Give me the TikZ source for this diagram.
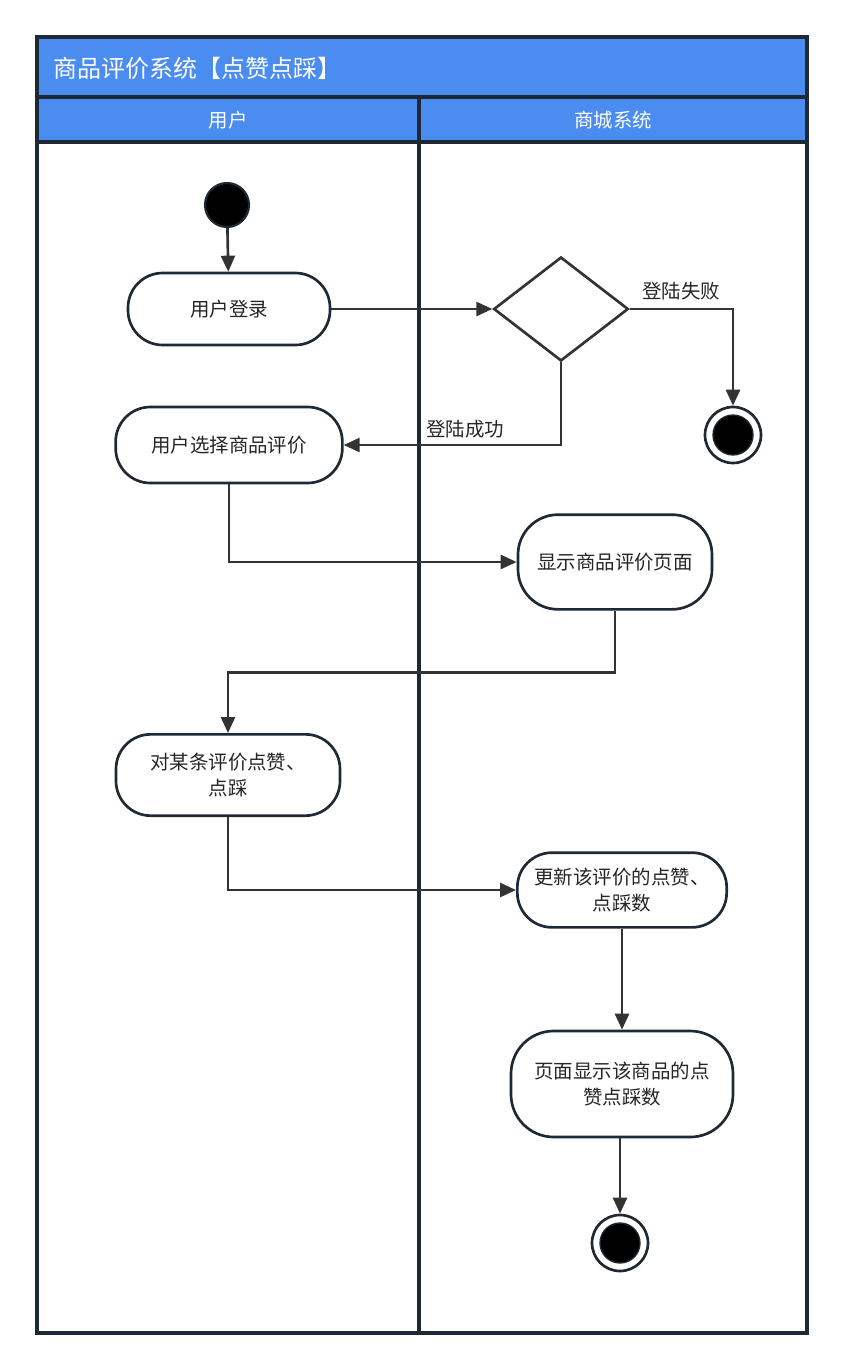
\documentclass[tikz,border=0pt]{standalone}
\usepackage{fontspec}
\setmainfont{Noto Sans CJK SC}
\usetikzlibrary{arrows.meta}
\usetikzlibrary{positioning, shapes.geometric}
\definecolor{lanebar}{HTML}{4A8CF0}
\definecolor{frameline}{HTML}{1F2933}
\definecolor{flowline}{HTML}{333333}
\tikzset{
activity/.style = { rectangle, draw = frameline, fill = white, line width = 2pt, rounded corners = 26pt, align = center, text = black!85, font = \fontsize{14.6}{19}\selectfont },
decision/.style = { diamond, draw = flowline, fill = white, line width = 2pt, minimum width = 101pt, minimum height = 78pt, inner sep = 0pt },
initial/.style = { circle, draw = frameline, fill = black, line width = 1.6pt, minimum size = 33pt, inner sep = 0pt },
final/.style = { circle, draw = frameline, fill = white, line width = 2pt, minimum size = 42pt, inner sep = 0pt,
        path picture = {\filldraw[fill = black, draw = frameline, line width = 1pt] (path picture bounding box.center) circle (15pt);} },
flow/.style = { draw = flowline, line width = 2pt, -{Triangle[length = 12pt, width = 10.5pt]} },
guard/.style = { text = black!85, font = \fontsize{14.6}{17}\selectfont },
}

\begin{document}
\begin{tikzpicture}[x = 0.75pt, y = -0.75pt]
    \useasboundingbox[fill = white] (0, 0) rectangle (845, 1371);
    % swimlane frame
    \path[fill = lanebar] (37, 37) rectangle (807, 142);
    \draw[frameline, line width = 2.3pt] (37, 97) -- (807, 97);
    \draw[frameline, line width = 2.3pt] (37, 142) -- (807, 142);
    \draw[frameline, line width = 2.3pt] (419, 97) -- (419, 1333);
    \draw[frameline, line width = 2.3pt] (37, 37) rectangle (807, 1333);
    \node[anchor = west, text = white, font = \fontsize{18}{21}\selectfont] (title) at (49, 68) {商品评价系统【点赞点踩】};
    \node[text = white, font = \fontsize{14.6}{17}\selectfont] (laneuser) at (228, 120) {用户};
    \node[text = white, font = \fontsize{14.6}{17}\selectfont] (laneshop) at (613, 120) {商城系统};
    % activities
    \node[initial] (start) at (227, 205) {};
    \node[activity, minimum width = 151.5pt, minimum height = 54pt] (login) at (229, 309) {用户登录};
    \node[decision] (check) at (561, 309) {};
    \node[final] (failend) at (733, 435) {};
    \node[activity, minimum width = 170pt, minimum height = 57pt] (select) at (229, 445) {用户选择商品评价};
    \node[activity, minimum width = 145.5pt, minimum height = 71pt, rounded corners = 30pt] (show) at (615, 562) {显示商品评价页面};
    \node[activity, minimum width = 168pt, minimum height = 61pt] (rate) at (228, 775) {对某条评价点赞、\\点踩};
    \node[activity, minimum width = 157pt, minimum height = 56pt] (update) at (622, 890) {更新该评价的点赞、\\点踩数};
    \node[activity, minimum width = 166.5pt, minimum height = 79.5pt, rounded corners = 32pt] (page) at (622, 1084) {页面显示该商品的点\\赞点踩数};
    \node[final] (doneend) at (620, 1243) {};
    % flows
    \draw[flow] (start) -- (login);
    \draw[flow] (login) -- (check);
    \draw[flow] (check.east) -| node[guard, pos = 0.25, above = 2pt] {登陆失败} (failend);
    \draw[flow] (check.south) |- node[guard, pos = 0.72, above = 1pt] {登陆成功} (select.east);
    \draw[flow] (select.south) |- (show.west);
    \draw[flow] (show.south) -- ++(0, 62) -| (rate.north);
    \draw[flow] (rate.south) |- (update.west);
    \draw[flow] (update.south) -- (update.south |- page.north);
    \draw[flow] (page.south -| doneend) -- (doneend);
\end{tikzpicture}
\end{document}
